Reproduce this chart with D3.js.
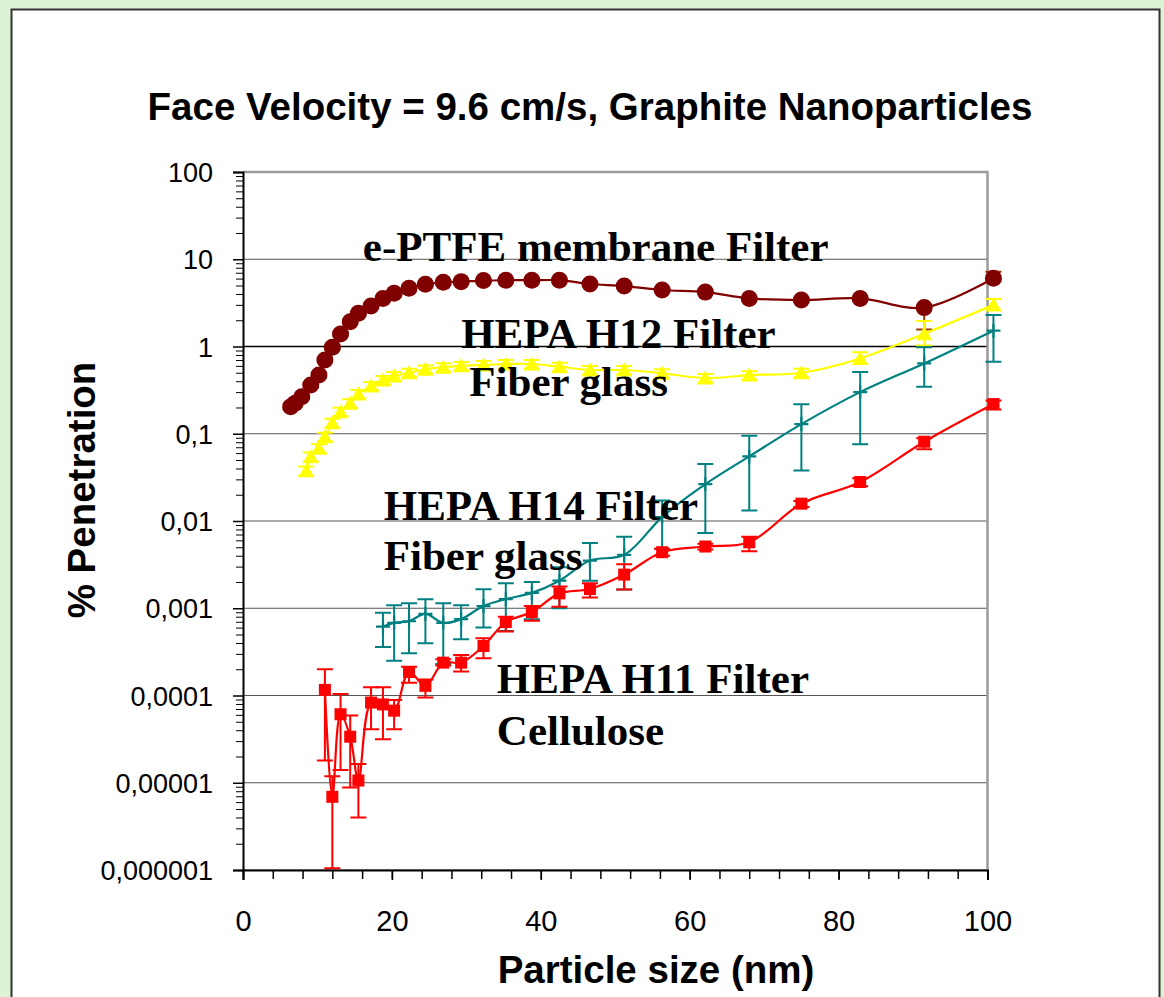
<!DOCTYPE html>
<html><head><meta charset="utf-8">
<script src="https://cdn.jsdelivr.net/npm/d3@7"></script>
<style>html,body{margin:0;padding:0;background:#ddf3d5;} svg{display:block}</style>
</head><body><svg id="c" width="1164" height="997"></svg>
<script>
// ---- data ----
const sizes = [6.4, 7.0, 7.9, 8.5, 9.1, 10.2, 11.0, 12.0, 13.1, 14.4, 15.5, 17.2, 18.8, 20.3, 22.3, 24.5, 26.9, 29.3, 32.3, 35.3, 38.8, 42.5, 46.6, 51.2, 56.3, 62.1, 68.0, 75.0, 82.9, 91.5, 100.8];

const ptfeValues = [0.204, 0.223, 0.266, null, 0.362, 0.471, 0.70, 0.98, 1.39, 1.92, 2.40, 2.91, 3.56, 4.07, 4.64, 5.16, 5.45, 5.54, 5.70, 5.75, 5.75, 5.75, 5.20, 4.93, 4.44, 4.20, 3.56, 3.41, 3.56, 2.79, 6.05];
const ptfeLo = [0.19, 0.21, 0.25, null, 0.34, 0.44, 0.66, 0.93, 1.32, 1.82, 2.28, 2.77, 3.40, 3.90, 4.45, 4.95, 5.25, 5.35, 5.50, 5.55, 5.55, 5.55, 5.00, 4.75, 4.28, 4.05, 3.42, 3.28, 3.40, 1.57, 5.70];
const ptfeHi = [0.22, 0.24, 0.28, null, 0.38, 0.50, 0.74, 1.03, 1.46, 2.02, 2.52, 3.05, 3.72, 4.24, 4.83, 5.37, 5.65, 5.73, 5.90, 5.95, 5.95, 5.95, 5.40, 5.11, 4.60, 4.35, 3.70, 3.54, 3.72, 2.95, 7.2];

const h12Values = [null, null, null, 0.0377, 0.0546, 0.068, 0.0925, 0.134, 0.179, 0.223, 0.286, 0.352, 0.413, 0.459, 0.50, 0.547, 0.58, 0.60, 0.615, 0.63, 0.63, 0.587, 0.538, 0.538, 0.493, 0.435, 0.47, 0.50, 0.73, 1.40, 3.0];
const h12Lo = [null, null, null, 0.033, 0.048, 0.060, 0.082, 0.119, 0.159, 0.198, 0.254, 0.313, 0.367, 0.408, 0.445, 0.487, 0.516, 0.534, 0.547, 0.561, 0.561, 0.522, 0.479, 0.479, 0.439, 0.387, 0.418, 0.445, 0.63, 1.03, 2.6];
const h12Hi = [null, null, null, 0.042, 0.061, 0.076, 0.103, 0.149, 0.199, 0.248, 0.318, 0.391, 0.459, 0.510, 0.555, 0.607, 0.644, 0.666, 0.683, 0.699, 0.699, 0.652, 0.597, 0.597, 0.547, 0.483, 0.522, 0.555, 0.86, 1.96, 3.5];

const h14Values = [null, null, null, null, null, null, null, null, null, null, null, null, 6.15e-4, 6.8e-4, 7.1e-4, 8.6e-4, 6.8e-4, 7.5e-4, 1.06e-3, 1.27e-3, 1.5e-3, 2.07e-3, 3.52e-3, 4.1e-3, 1.11e-2, 2.64e-2, 5.5e-2, 0.129, 0.30, 0.64, 1.52];
const h14Lo = [null, null, null, null, null, null, null, null, null, null, null, null, 3.6e-4, 2.5e-4, 3.05e-4, 3.96e-4, 2.3e-4, 4.4e-4, 6.0e-4, 5.5e-4, 7.5e-4, 1.0e-3, 2.07e-3, 1.64e-3, 4.8e-3, 7.3e-3, 1.32e-2, 3.8e-2, 0.076, 0.346, 0.67];
const h14Hi = [null, null, null, null, null, null, null, null, null, null, null, null, 8.9e-4, 1.08e-3, 1.14e-3, 1.27e-3, 1.14e-3, 1.08e-3, 1.65e-3, 1.93e-3, 2.0e-3, 2.95e-3, 5.6e-3, 6.6e-3, 1.72e-2, 4.5e-2, 9.5e-2, 0.218, 0.51, 0.98, 2.30];

const h11Values = [null, null, null, null, null, null, 1.16e-4, 6.9e-6, 6.1e-5, 3.37e-5, 1.06e-5, 8.3e-5, 7.9e-5, 6.7e-5, 1.86e-4, 1.29e-4, 2.38e-4, 2.38e-4, 3.69e-4, 6.95e-4, 9.05e-4, 1.48e-3, 1.66e-3, 2.43e-3, 4.39e-3, 5.1e-3, 5.7e-3, 1.58e-2, 2.8e-2, 8.1e-2, 0.219];
const h11Lo = [null, null, null, null, null, null, 1.8e-5, 1.05e-6, 1.4e-5, 8.8e-6, 4.0e-6, 4.1e-5, 3.15e-5, 4.1e-5, 1.4e-4, 9.5e-5, 2.2e-4, 1.88e-4, 2.67e-4, 5.4e-4, 7.2e-4, 1.04e-3, 1.33e-3, 1.64e-3, 4.0e-3, 4.7e-3, 4.5e-3, 1.45e-2, 2.5e-2, 6.65e-2, 0.19];
const h11Hi = [null, null, null, null, null, null, 2.0e-4, 1.19e-5, 1.04e-4, 5.9e-5, 1.64e-5, 1.24e-4, 1.24e-4, 8.9e-5, 2.14e-4, 1.53e-4, 2.6e-4, 2.91e-4, 4.53e-4, 8.0e-4, 1.06e-3, 1.77e-3, 1.93e-3, 3.2e-3, 4.8e-3, 5.5e-3, 6.6e-3, 1.7e-2, 3.1e-2, 8.9e-2, 0.24];

const yTickValues = [1e-6, 1e-5, 1e-4, 1e-3, 1e-2, 1e-1, 1, 10, 100];
const yTickLabels = ["0,000001", "0,00001", "0,0001", "0,001", "0,01", "0,1", "1", "10", "100"];
const xTickValues = [0, 20, 40, 60, 80, 100];

const titleText = "Face Velocity = 9.6 cm/s, Graphite Nanoparticles";
const xTitle = "Particle size (nm)";
const yTitle = "% Penetration";
const annotations = [
  {text: "e-PTFE membrane Filter", x: 16.1, y: 9.5},
  {text: "HEPA H12 Filter", x: 29.3, y: 0.97},
  {text: "Fiber glass", x: 30.4, y: 0.27},
  {text: "HEPA H14 Filter", x: 18.9, y: 0.0102},
  {text: "Fiber glass", x: 18.9, y: 0.00275},
  {text: "HEPA H11 Filter", x: 34.1, y: 0.000106},
  {text: "Cellulose", x: 34.1, y: 0.0000274}
];

// ---- drawing ----
const svg = d3.select("#c");
const sans = "'Liberation Sans', Arial, sans-serif";
const serif = "'Liberation Serif', 'Times New Roman', serif";

// chart panel
svg.append("rect").attr("x", 11.5).attr("y", 9.5).attr("width", 1148).attr("height", 1000)
  .attr("fill", "#fff").attr("stroke", "#333").attr("stroke-width", 2);

const x = d3.scaleLinear().domain([0, 100]).range([243, 987.5]);
const y = d3.scaleLog().domain([1e-6, 100]).range([870, 172]);

const g = svg.append("g");

// gridlines
g.selectAll("line.grid").data(yTickValues.filter(v => v < 100)).join("line")
  .attr("x1", x(0)).attr("x2", x(100))
  .attr("y1", d => y(d)).attr("y2", d => y(d))
  .attr("stroke", d => d === 1 ? "#000" : "#555").attr("stroke-width", d => d === 1 ? 1.5 : 1.2);

// plot border top / right
g.append("path").attr("d", `M${x(0)},${y(100)}H${x(100)}V${y(1e-6)}`)
  .attr("fill", "none").attr("stroke", "#9a9a9a").attr("stroke-width", 2.5);

// minor y ticks
const minorY = [];
yTickValues.slice(0, -1).forEach(d => { for (let k = 2; k <= 9; k++) minorY.push(d * k); });
const yMinor = g.append("g").attr("transform", `translate(${x(0)},0)`)
  .call(d3.axisLeft(y).tickValues(minorY).tickSize(7).tickFormat(""));
yMinor.select(".domain").remove();
yMinor.selectAll("line").attr("stroke", "#000").attr("stroke-width", 1);

// major y axis
const yAxis = g.append("g").attr("transform", `translate(${x(0)},0)`)
  .call(d3.axisLeft(y).tickValues(yTickValues).tickSize(10).tickPadding(20)
    .tickFormat((d, i) => yTickLabels[i]));
yAxis.select(".domain").attr("stroke", "#000").attr("stroke-width", 2);
yAxis.selectAll("line").attr("stroke", "#000").attr("stroke-width", 1.5);
yAxis.selectAll("text").attr("font-family", sans).attr("font-size", 27).attr("fill", "#000")
  .attr("dy", "0.36em");

// x axis
const minorX = d3.range(0, 101, 4);
const xMinor = g.append("g").attr("transform", `translate(0,${y(1e-6)})`)
  .call(d3.axisBottom(x).tickValues(minorX).tickSize(9).tickFormat(""));
xMinor.select(".domain").remove();
xMinor.selectAll("line").attr("stroke", "#000").attr("stroke-width", 1.5);
const xAxis = g.append("g").attr("transform", `translate(0,${y(1e-6)})`)
  .call(d3.axisBottom(x).tickValues(xTickValues).tickSize(10).tickPadding(30));
xAxis.select(".domain").attr("stroke", "#000").attr("stroke-width", 2);
xAxis.selectAll("line").attr("stroke", "#000").attr("stroke-width", 1.5);
xAxis.selectAll("text").attr("font-family", sans).attr("font-size", 29).attr("fill", "#000")
  .attr("dy", "0.71em");

// series
const series = [
  {vals: ptfeValues, lo: ptfeLo, hi: ptfeHi, line: "#800000", err: "#993300", mark: "circle", fill: "#800000"},
  {vals: h12Values, lo: h12Lo, hi: h12Hi, line: "#ffff00", err: "#ffff00", mark: "triangle", fill: "#ffff00"},
  {vals: h14Values, lo: h14Lo, hi: h14Hi, line: "#008080", err: "#008080", mark: "plus", fill: "#008080"},
  {vals: h11Values, lo: h11Lo, hi: h11Hi, line: "#ff0000", err: "#ff0000", mark: "square", fill: "#ff0000"}
];

const lineGen = d3.line().defined(d => d.v != null).x(d => x(d.s)).y(d => y(d.v))
  .curve(d3.curveCatmullRom.alpha(0.5));

series.forEach(S => {
  const pts = sizes.map((s, i) => ({s, v: S.vals[i], lo: S.lo[i], hi: S.hi[i]})).filter(d => d.v != null);
  const sg = g.append("g");
  const eb = sg.append("g").attr("stroke", S.err).attr("stroke-width", 2).attr("fill", "none");
  eb.selectAll("path").data(pts).join("path")
    .attr("d", d => {
      const cx = x(d.s), y1 = y(d.lo), y2 = y(d.hi);
      return `M${cx},${y1}V${y2}M${cx-8},${y1}H${cx+8}M${cx-8},${y2}H${cx+8}`;
    });
  sg.append("path").datum(pts).attr("d", lineGen).attr("fill", "none")
    .attr("stroke", S.line).attr("stroke-width", 2.2);
  const mg = sg.append("g");
  if (S.mark === "circle") {
    mg.selectAll("circle").data(pts).join("circle")
      .attr("cx", d => x(d.s)).attr("cy", d => y(d.v)).attr("r", 8.5).attr("fill", S.fill);
  } else if (S.mark === "triangle") {
    mg.selectAll("path").data(pts).join("path")
      .attr("transform", d => `translate(${x(d.s)},${y(d.v)})`)
      .attr("d", "M0,-7.5L8,6.5L-8,6.5Z").attr("fill", S.fill);
  } else if (S.mark === "square") {
    mg.selectAll("rect").data(pts).join("rect")
      .attr("x", d => x(d.s) - 6).attr("y", d => y(d.v) - 6).attr("width", 12).attr("height", 12)
      .attr("fill", S.fill);
  } else {
    mg.selectAll("path").data(pts).join("path")
      .attr("transform", d => `translate(${x(d.s)},${y(d.v)})`)
      .attr("d", "M-7,0H7M0,-7V7").attr("stroke", S.fill).attr("stroke-width", 2.2);
  }
});

// annotations
g.selectAll("text.ann").data(annotations).join("text").attr("class", "ann")
  .attr("x", d => x(d.x)).attr("y", d => y(d.y))
  .attr("font-family", serif).attr("font-weight", "bold").attr("font-size", 43).attr("fill", "#000")
  .text(d => d.text);

// titles
svg.append("text").attr("x", 590).attr("y", 120).attr("text-anchor", "middle")
  .attr("font-family", sans).attr("font-weight", "bold").attr("font-size", 38.5).text(titleText);
svg.append("text").attr("x", 656).attr("y", 983).attr("text-anchor", "middle")
  .attr("font-family", sans).attr("font-weight", "bold").attr("font-size", 38.5).text(xTitle);
svg.append("text").attr("transform", "translate(95,490) rotate(-90)").attr("text-anchor", "middle")
  .attr("font-family", sans).attr("font-weight", "bold").attr("font-size", 38.5).text(yTitle);
</script>
</body></html>
